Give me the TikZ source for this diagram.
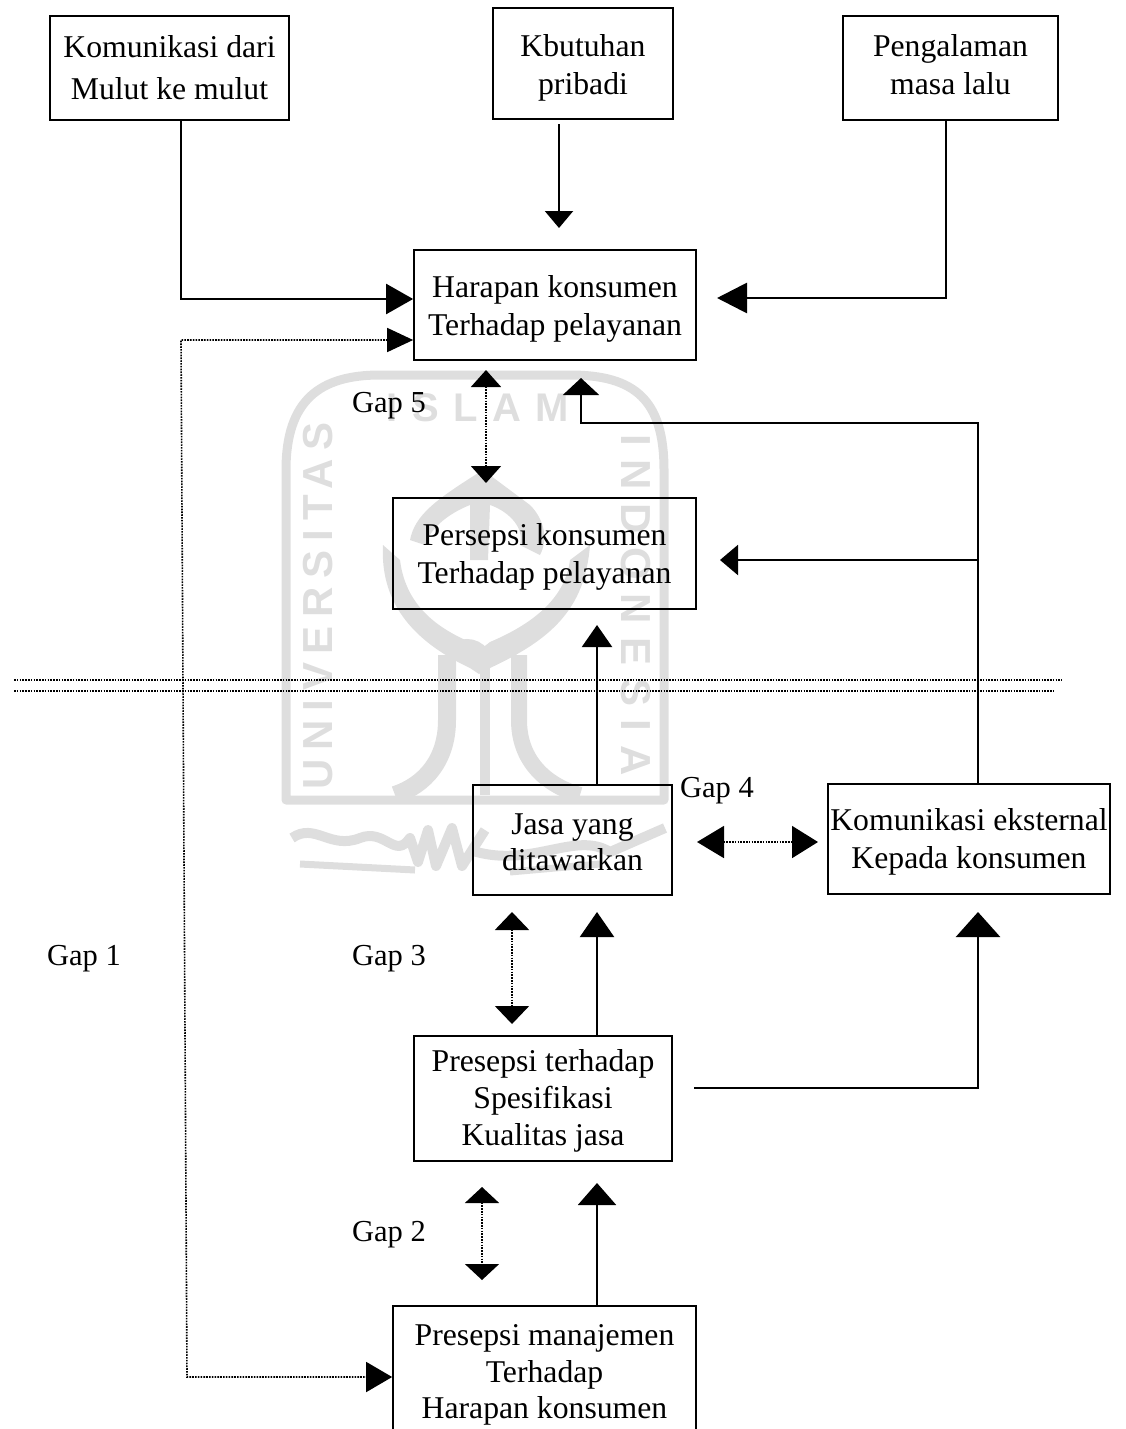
\documentclass[tikz,border=0pt]{standalone}
\usepackage{fontspec}
\setmainfont{Liberation Serif}
\newfontfamily\wmfont{Liberation Sans}
\usetikzlibrary{arrows.meta}
\definecolor{wm}{gray}{0.87}
\tikzset{
  x=1pt,y=-1pt,
  boxnode/.style={draw=black,line width=1.7pt,inner sep=0pt,align=center,font=\fontsize{31.7}{#1}\selectfont},
  gaplabel/.style={inner sep=0pt,font=\fontsize{30.5}{36}\selectfont},
  solidline/.style={line width=2.2pt,black},
  heavyline/.style={line width=2.8pt,black},
  dotline/.style={line width=1.7pt,dash pattern=on 1.7pt off 1.1pt,black},
  hairdot/.style={line width=1.6pt,dash pattern=on 1.6pt off 1.2pt,black},
  wmline/.style={wm,line width=9pt},
  wmtext/.style={wm,inner sep=0pt,font=\wmfont\bfseries\fontsize{#1}{50}\selectfont},
}
\newcommand{\tip}[2]{Triangle[width=#1pt,length=#2pt]}
\newcommand{\strutup}[1]{\rule{0pt}{#1pt}}
\newcommand{\strutdn}[1]{\rule[-#1pt]{0pt}{#1pt}}
\begin{document}
\begin{tikzpicture}
\useasboundingbox (0,0) rectangle (1125,1429);
\clip (0,0) rectangle (1125,1429);
% watermark
\draw[wmline,line join=round] (286,800) -- (286,470) .. controls (286,400) and (320,375) .. (380,375) -- (570,375) .. controls (635,375) and (664,400) .. (664,470) -- (664,800) -- cycle;
\node[wmtext=42,rotate=90] at (318,606) {\addfontfeatures{LetterSpace=21}UNIVERSITAS};
\node[wmtext=42,rotate=-90] at (636,605) {\addfontfeatures{LetterSpace=32}INDONESIA};
\node[wmtext=40,rotate=0] at (478,408) {\addfontfeatures{LetterSpace=36}ISLAM};
% drop and leaf
\fill[wm] (483,470) -- (530,505) .. controls (545,520) and (548,540) .. (540,555) -- (520,545) .. controls (525,525) and (505,510) .. (490,505) -- (488,560) -- (470,560) -- (470,505) .. controls (445,515) and (430,530) .. (425,545) -- (410,540) .. controls (415,515) and (435,500) .. cycle;
\fill[wm] (383,545) .. controls (380,600) and (410,640) .. (470,668) -- (479,674) -- (490,668) .. controls (550,640) and (585,610) .. (590,545) -- (570,560) .. controls (565,600) and (530,625) .. (490,642) -- (480,650) -- (470,642) .. controls (430,625) and (405,600) .. (400,560) -- cycle;
% pillars
\draw[wm,line width=18pt] (447,655) -- (447,720) .. controls (447,760) and (425,785) .. (395,795);
\draw[wm,line width=10pt] (485,655) -- (485,795);
\draw[wm,line width=16pt] (519,655) -- (519,720) .. controls (519,760) and (545,785) .. (580,795);
\draw[wm,line width=8pt] (447,652) .. controls (460,640) and (475,640) .. (485,652) .. controls (495,640) and (510,640) .. (519,652);
% calligraphy
\draw[wm,line width=10pt,line join=round] (292,838) .. controls (315,822) and (330,850) .. (360,838) .. controls (385,828) and (395,860) .. (410,838) -- (418,862) -- (428,830) -- (436,866) -- (452,828) -- (462,866) -- (485,830);
\draw[wm,line width=10pt,line join=round] (470,850) .. controls (530,870) and (575,830) .. (610,852) -- (665,828);
\draw[wm,line width=7pt] (300,864) -- (415,870) (510,872) -- (600,864);
% boxes
\node[boxnode=42,minimum width=239pt,minimum height=104pt] (kom) at (169.5,68) {Komunikasi dari\\Mulut ke mulut};
\node[boxnode=38,minimum width=180pt,minimum height=111pt] (kbu) at (583,63.5) {\strutup{31.6}Kbutuhan\\pribadi};
\node[boxnode=38,minimum width=215pt,minimum height=104pt] (pen) at (950.5,68) {Pengalaman\\masa lalu\strutdn{6}};
\node[boxnode=38,minimum width=282pt,minimum height=110pt] (har) at (555,305) {\strutup{29.6}Harapan konsumen\\Terhadap pelayanan};
\node[boxnode=38,minimum width=303pt,minimum height=111pt] (per) at (544.5,553.5) {\strutup{29.6}Persepsi konsumen\\Terhadap pelayanan};
\node[boxnode=36,minimum width=199pt,minimum height=110pt] (jas) at (572.5,840) {\strutup{25.6}Jasa yang\\ditawarkan};
\node[boxnode=38,minimum width=282pt,minimum height=110pt] (eks) at (969,839) {\strutup{27.6}Komunikasi eksternal\\Kepada konsumen};
\node[boxnode=37,minimum width=258pt,minimum height=125pt] (pre) at (543,1098.5) {\strutup{27.6}Presepsi terhadap\\Spesifikasi\\Kualitas jasa};
\node[boxnode=36.5,minimum width=303pt,minimum height=132pt] (man) at (544.5,1372) {\strutup{27.6}Presepsi manajemen\\Terhadap\\Harapan konsumen};
% labels
\node[gaplabel] (g1) at (84,959) {Gap 1};
\node[gaplabel] (g2) at (389,1235) {Gap 2};
\node[gaplabel] (g3) at (389,959) {Gap 3};
\node[gaplabel] (g4) at (717,791) {Gap 4};
\node[gaplabel] (g5) at (389,406) {Gap 5};
% coordinates
\coordinate (c0) at (559,124);
\coordinate (c1) at (181,299);
\coordinate (c2) at (559,228);
\coordinate (c3) at (946,298);
\coordinate (c4) at (717,298);
\coordinate (d1) at (181,340);
\coordinate (d2) at (187,1377);
\coordinate (e1) at (486,370);
\coordinate (e2) at (486,483);
\coordinate (f1) at (978,423);
\coordinate (f2) at (581,423);
\coordinate (f3) at (581,378);
\coordinate (f4) at (978,560);
\coordinate (f5) at (720,560);
\coordinate (h1) at (597,625);
\coordinate (l1a) at (14,680);
\coordinate (l1b) at (1062,680);
\coordinate (l2a) at (14,691);
\coordinate (l2b) at (1054,691);
\coordinate (i1) at (697,842);
\coordinate (i2) at (818,842);
\coordinate (j1) at (512,912);
\coordinate (j2) at (512,1024);
\coordinate (k1) at (597,912);
\coordinate (m1) at (694,1088);
\coordinate (m2) at (978,1088);
\coordinate (m3) at (978,912);
\coordinate (n1) at (482,1187);
\coordinate (n2) at (482,1280);
\coordinate (o1) at (597,1183);
% connectors
\draw[solidline,-{\tip{30}{27}}] (kom.south -| c1) -- (c1) -- (har.west |- c1);
\draw[solidline,-{\tip{28}{17}}] (c0) -- (c2);
\draw[heavyline,-{\tip{30}{30}}] (pen.south -| c3) -- (c3) -- (c4);
\draw[hairdot,{\tip{24}{26}}-{\tip{30}{26}}] (har.west |- d1) -- (d1) -- (d2) -- (man.west |- d2);
\draw[dotline,{\tip{30}{17}}-{\tip{30}{17}}] (e1) -- (e2);
\draw[solidline,-{\tip{36}{17}}] (eks.north -| f1) -- (f1) -- (f2) -- (f3);
\draw[solidline,-{\tip{30}{18}}] (f4) -- (f5);
\draw[solidline,-{\tip{30}{22}}] (jas.north -| h1) -- (h1);
\draw[hairdot] (l1a) -- (l1b);
\draw[hairdot] (l2a) -- (l2b);
\draw[dotline,{\tip{32}{27}}-{\tip{32}{26}}] (i1) -- (i2);
\draw[dotline,{\tip{34}{18}}-{\tip{34}{18}}] (j1) -- (j2);
\draw[solidline,-{\tip{34}{25}}] (pre.north -| k1) -- (k1);
\draw[heavyline,-{\tip{44}{25}}] (m1) -- (m2) -- (m3);
\draw[dotline,{\tip{34}{16}}-{\tip{34}{16}}] (n1) -- (n2);
\draw[solidline,-{\tip{38}{22}}] (man.north -| o1) -- (o1);
\end{tikzpicture}
\end{document}
